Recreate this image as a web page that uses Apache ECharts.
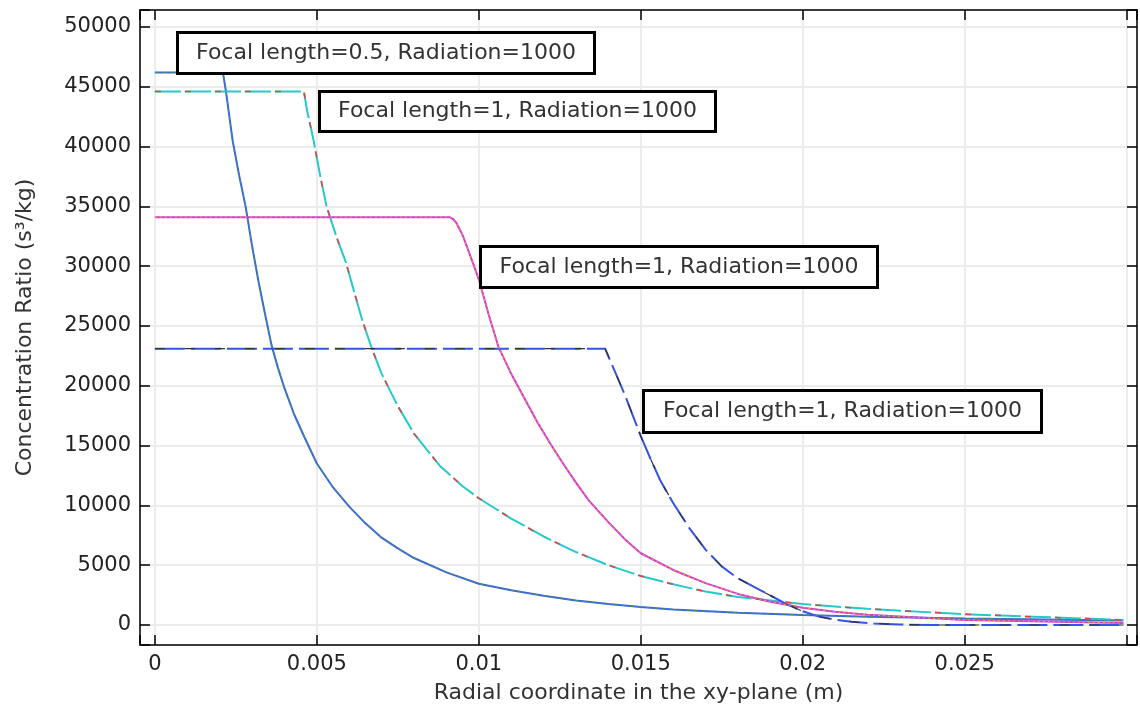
<!DOCTYPE html>
<html>
<head>
<meta charset="utf-8">
<script src="https://cdn.jsdelivr.net/npm/echarts@6/dist/echarts.min.js"></script>
<style>
html, body { margin: 0; padding: 0; background: #fff; }
#chart { width: 1140px; height: 710px; }
</style>
</head>
<body>
<div id="chart"></div>
<script>
// curve data: [radial coordinate (m), concentration ratio]
var curveF05 = [
    [0, 46200], [0.0021, 46200], [0.0022, 44500], [0.0024, 40500], [0.0026, 37600],
    [0.0028, 35000], [0.003, 31700], [0.0032, 28700], [0.0034, 26000], [0.0036, 23400],
    [0.0038, 21500], [0.004, 19800], [0.0043, 17600], [0.0046, 15800], [0.005, 13500],
    [0.0055, 11500], [0.006, 9900], [0.0065, 8500], [0.007, 7300], [0.0075, 6400],
    [0.008, 5600], [0.009, 4400], [0.01, 3450], [0.011, 2900], [0.012, 2450],
    [0.013, 2050], [0.014, 1750], [0.015, 1500], [0.016, 1300], [0.018, 1030],
    [0.02, 840], [0.022, 700], [0.025, 550], [0.0299, 380]
];
var curveF1a = [
    [0, 44600], [0.0046, 44600], [0.0047, 43000], [0.0049, 40500], [0.0051, 37600],
    [0.0053, 35000], [0.0056, 32500], [0.0059, 30300], [0.0062, 27400], [0.0064, 25500],
    [0.0067, 23100], [0.007, 21000], [0.0075, 18300], [0.008, 16000], [0.0088, 13300],
    [0.0095, 11600], [0.01, 10600], [0.011, 8900], [0.012, 7400], [0.013, 6100],
    [0.014, 5000], [0.015, 4100], [0.016, 3400], [0.017, 2800], [0.018, 2350],
    [0.02, 1750], [0.022, 1350], [0.025, 900], [0.0299, 420]
];
var curveF1b = [
    [0, 34100], [0.0091, 34100], [0.0092, 33950], [0.0093, 33650], [0.0095, 32600],
    [0.0098, 30400], [0.01, 28900], [0.0103, 26000], [0.0106, 23300], [0.011, 21000],
    [0.0114, 19000], [0.0118, 17000], [0.0122, 15200], [0.0126, 13500], [0.013, 11900],
    [0.0134, 10400], [0.014, 8600], [0.0145, 7200], [0.015, 6000], [0.016, 4600],
    [0.017, 3500], [0.018, 2600], [0.019, 1950], [0.02, 1450], [0.021, 1100],
    [0.022, 850], [0.025, 420], [0.0299, 170]
];
var curveF1c = [
    [0, 23100], [0.0139, 23100], [0.0142, 21200], [0.0145, 19300], [0.0148, 17200],
    [0.015, 15800], [0.0153, 13900], [0.0156, 12100], [0.016, 10200], [0.0165, 8100],
    [0.017, 6300], [0.0175, 4900], [0.018, 3900], [0.0187, 2900], [0.0195, 1750],
    [0.02, 1150], [0.0205, 700], [0.021, 450], [0.0215, 280], [0.0222, 130],
    [0.023, 40], [0.024, 0], [0.0299, 0]
];

var boxLabels = [
    'Focal length=0.5, Radiation=1000',
    'Focal length=1, Radiation=1000',
    'Focal length=1, Radiation=1000',
    'Focal length=1, Radiation=1000'
];

var xMin = -0.00046, xMax = 0.03032;
var yMin = -1672, yMax = 51421;

var chart = echarts.init(document.getElementById('chart'), null, { renderer: 'canvas' });

function line(data, color, width, type, z) {
    return {
        type: 'line',
        data: data,
        showSymbol: false,
        smooth: false,
        lineStyle: { color: color, width: width, type: type },
        z: z,
        silent: true
    };
}

var frame = { show: true, onZero: false, lineStyle: { color: '#000', width: 1.5 } };
var ticksIn = { show: true, inside: true, length: 10, lineStyle: { color: '#000', width: 1.5 } };

function box(x, y, w, h, text) {
    return {
        type: 'group',
        left: x,
        top: y,
        children: [
            { type: 'rect', z: 100, shape: { x: 0, y: 0, width: w, height: h },
              style: { fill: '#fff', stroke: '#000', lineWidth: 3 } },
            { type: 'text', z: 101, x: w / 2, y: h / 2,
              style: { text: text, fill: '#333', font: '22px "DejaVu Sans"',
                       align: 'center', verticalAlign: 'middle' } }
        ]
    };
}

var option = {
    animation: false,
    backgroundColor: '#fff',
    grid: { left: 140, top: 10, right: -1, bottom: 65, containLabel: false },
    xAxis: [{
        type: 'value',
        min: xMin,
        max: xMax,
        splitNumber: 5,
        position: 'bottom',
        name: 'Radial coordinate in the xy-plane (m)',
        nameLocation: 'middle',
        nameGap: 37,
        nameTextStyle: { fontFamily: 'DejaVu Sans', fontSize: 22, color: '#333' },
        axisLine: frame,
        axisTick: ticksIn,
        splitLine: { show: true, lineStyle: { color: '#ececec', width: 2 } },
        axisLabel: {
            fontFamily: 'DejaVu Sans', fontSize: 21, color: '#222', margin: 9,
            formatter: function (v) {
                var k = Math.round(v / 0.005);
                if (Math.abs(v - k * 0.005) > 1e-6 || v > 0.026) return '';
                return String(parseFloat(v.toFixed(4)));
            }
        }
    }, {
        type: 'value',
        min: xMin,
        max: xMax,
        splitNumber: 5,
        position: 'top',
        axisLine: frame,
        axisTick: ticksIn,
        axisLabel: { show: false },
        splitLine: { show: false }
    }],
    yAxis: [{
        type: 'value',
        min: yMin,
        max: yMax,
        splitNumber: 10,
        position: 'left',
        name: 'Concentration Ratio (s\u00b3/kg)',
        nameLocation: 'middle',
        nameGap: 104,
        nameTextStyle: { fontFamily: 'DejaVu Sans', fontSize: 22, color: '#333' },
        axisLine: frame,
        axisTick: ticksIn,
        splitLine: { show: true, lineStyle: { color: '#ececec', width: 2 } },
        axisLabel: {
            fontFamily: 'DejaVu Sans', fontSize: 21, color: '#222', margin: 9,
            formatter: function (v) {
                var k = Math.round(v / 5000);
                if (Math.abs(v - k * 5000) > 1 || v < -1 || v > 50001) return '';
                return String(k * 5000);
            }
        }
    }, {
        type: 'value',
        min: yMin,
        max: yMax,
        splitNumber: 10,
        position: 'right',
        axisLine: frame,
        axisTick: ticksIn,
        axisLabel: { show: false },
        splitLine: { show: false }
    }],
    series: [
        line(curveF05, '#3f63e6', 2, 'solid', 2),
        line(curveF05, '#3a9a5a', 1, [4, 4], 3),
        line(curveF1a, '#25c8cc', 2, [26, 4], 2),
        line(curveF1a, '#e8403a', 1.5, [6, 24], 3),
        line(curveF1b, '#d03ad8', 2, 'solid', 2),
        line(curveF1b, '#f4a623', 1, [2, 3], 3),
        line(curveF1c, '#3553e6', 2, [30, 6], 2),
        line(curveF1c, '#333333', 1.2, [10, 20], 3)
    ],
    graphic: [
        box(176, 31, 417, 41, boxLabels[0]),
        box(318, 90, 396, 40, boxLabels[1]),
        box(479, 245, 397, 41, boxLabels[2]),
        box(642, 389, 398, 42, boxLabels[3])
    ]
};

chart.setOption(option);
</script>
</body>
</html>
